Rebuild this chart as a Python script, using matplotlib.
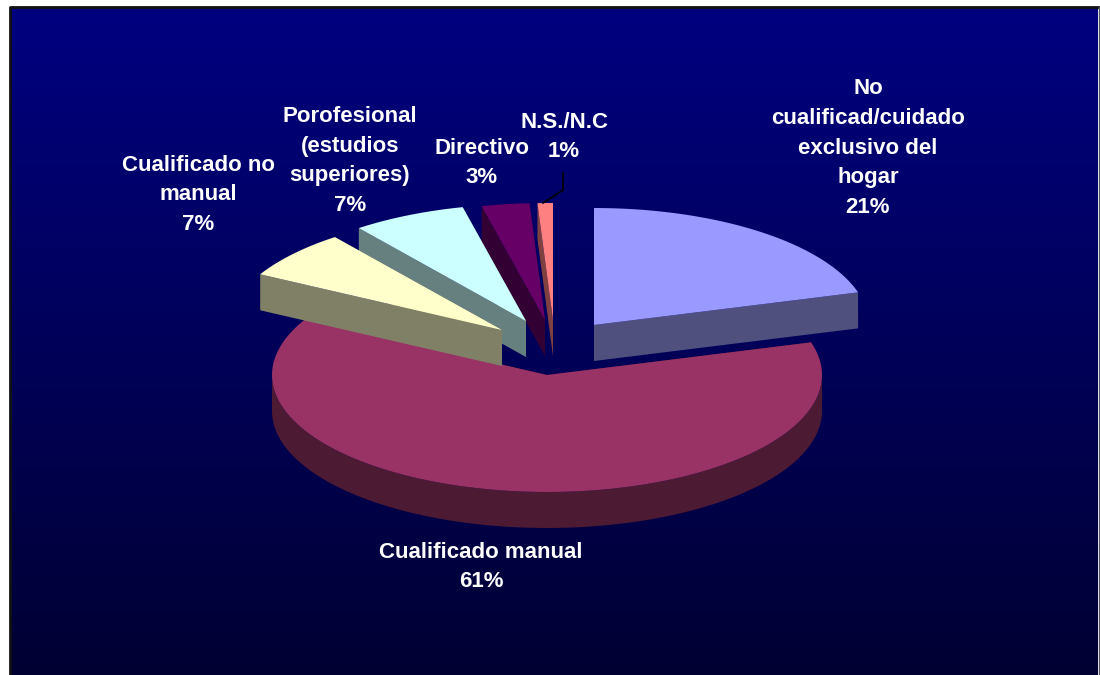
#!/usr/bin/env python3
import numpy as np
import matplotlib
matplotlib.use('Agg')
import matplotlib.pyplot as plt
from matplotlib.colors import LinearSegmentedColormap
from matplotlib.patches import Polygon

NAMES = ['No\ncualificad/cuidado\nexclusivo del\nhogar', 'Cualificado manual',
         'Cualificado no\nmanual', 'Porofesional\n(estudios\nsuperiores)',
         'Directivo', 'N.S./N.C']
SHARES = [20.5, 62.4, 6.7, 6.7, 2.8, 0.9]
PCT_LABELS = ['21%', '61%', '7%', '7%', '3%', '1%']

TOP_COLORS = ['#9999FF', '#993366', '#FFFFCC', '#CCFFFF', '#660066', '#FF8080']
SIDE_COLORS = ['#50507F', '#4D1A33', '#808066', '#668080', '#330033', '#804040']

# layout, in pixels of the 1100x675 figure
APEX_X = [594, 547, 502, 526, 545, 553]
APEX_Y = [325, 375, 330, 321, 320, 320]
LABEL_X = [868, 481, 198, 350, 482, 564]
LABEL_Y = [148, 567, 195, 161, 163, 137]
RX, RY, DEPTH = 275, 117, 36


def arc(cx, cy, t0, t1, n=120):
    t = np.radians(np.linspace(t0, t1, n))
    return np.column_stack([cx + RX * np.sin(t), cy - RY * np.cos(t)])


def draw_slice(ax, cx, cy, t0, t1, top, side):
    down = np.array([0, DEPTH])
    apex = np.array([[cx, cy]])
    outer = arc(cx, cy, t0, t1)

    # end face, then the visible part of the rim, then start face, then the top
    p_end = np.vstack([apex, outer[-1:], outer[-1:] + down, apex + down])
    ax.add_patch(Polygon(p_end, fc=side, ec='none', zorder=2))
    lo, hi = max(t0, 90), min(t1, 270)
    if lo < hi:
        rim = arc(cx, cy, lo, hi)
        ax.add_patch(Polygon(np.vstack([rim, rim[::-1] + down]), fc=side, ec='none', zorder=2))
    p_start = np.vstack([apex, outer[:1], outer[:1] + down, apex + down])
    ax.add_patch(Polygon(p_start, fc=side, ec='none', zorder=2))
    ax.add_patch(Polygon(np.vstack([apex, outer]), fc=top, ec='none', zorder=2))


def main():
    plt.rcParams['font.family'] = ['Liberation Sans', 'DejaVu Sans']
    fig = plt.figure(figsize=(11, 6.75), dpi=100, facecolor='white')
    ax = fig.add_axes([0, 0, 1, 1])
    ax.axis('off')

    cmap = LinearSegmentedColormap.from_list('bg', ['#000080', '#000033'])
    grad = np.linspace(0, 1, 256).reshape(-1, 1)
    ax.imshow(grad, cmap=cmap, extent=(10, 1098, 675, 8), aspect='auto', zorder=0)
    ax.set_xlim(0, 1100)
    ax.set_ylim(675, 0)
    ax.plot([9.5, 9.5, 1098.5], [675, 7, 7], color='#111111', lw=2, zorder=1)
    ax.plot([1098.5, 1098.5], [7, 675], color='#555566', lw=1, zorder=1)

    edges = np.concatenate([[0], np.cumsum(SHARES)]) * 3.6
    # back to front: yellow sits over the light blue, both over the manual slice
    for i in [1, 5, 4, 3, 2, 0]:
        draw_slice(ax, APEX_X[i], APEX_Y[i], edges[i], edges[i + 1], TOP_COLORS[i], SIDE_COLORS[i])

    for i, name in enumerate(NAMES):
        ax.text(LABEL_X[i], LABEL_Y[i], name + '\n' + PCT_LABELS[i], color='white',
                fontsize=16, fontweight='bold', ha='center', va='center',
                linespacing=1.54, zorder=4)

    # leader for the smallest slice
    ax.plot([563, 563, 543], [173, 190, 203], color='black', lw=1.2, zorder=3)

    fig.savefig('out.png', dpi=100)
    plt.close(fig)


if __name__ == '__main__':
    main()
